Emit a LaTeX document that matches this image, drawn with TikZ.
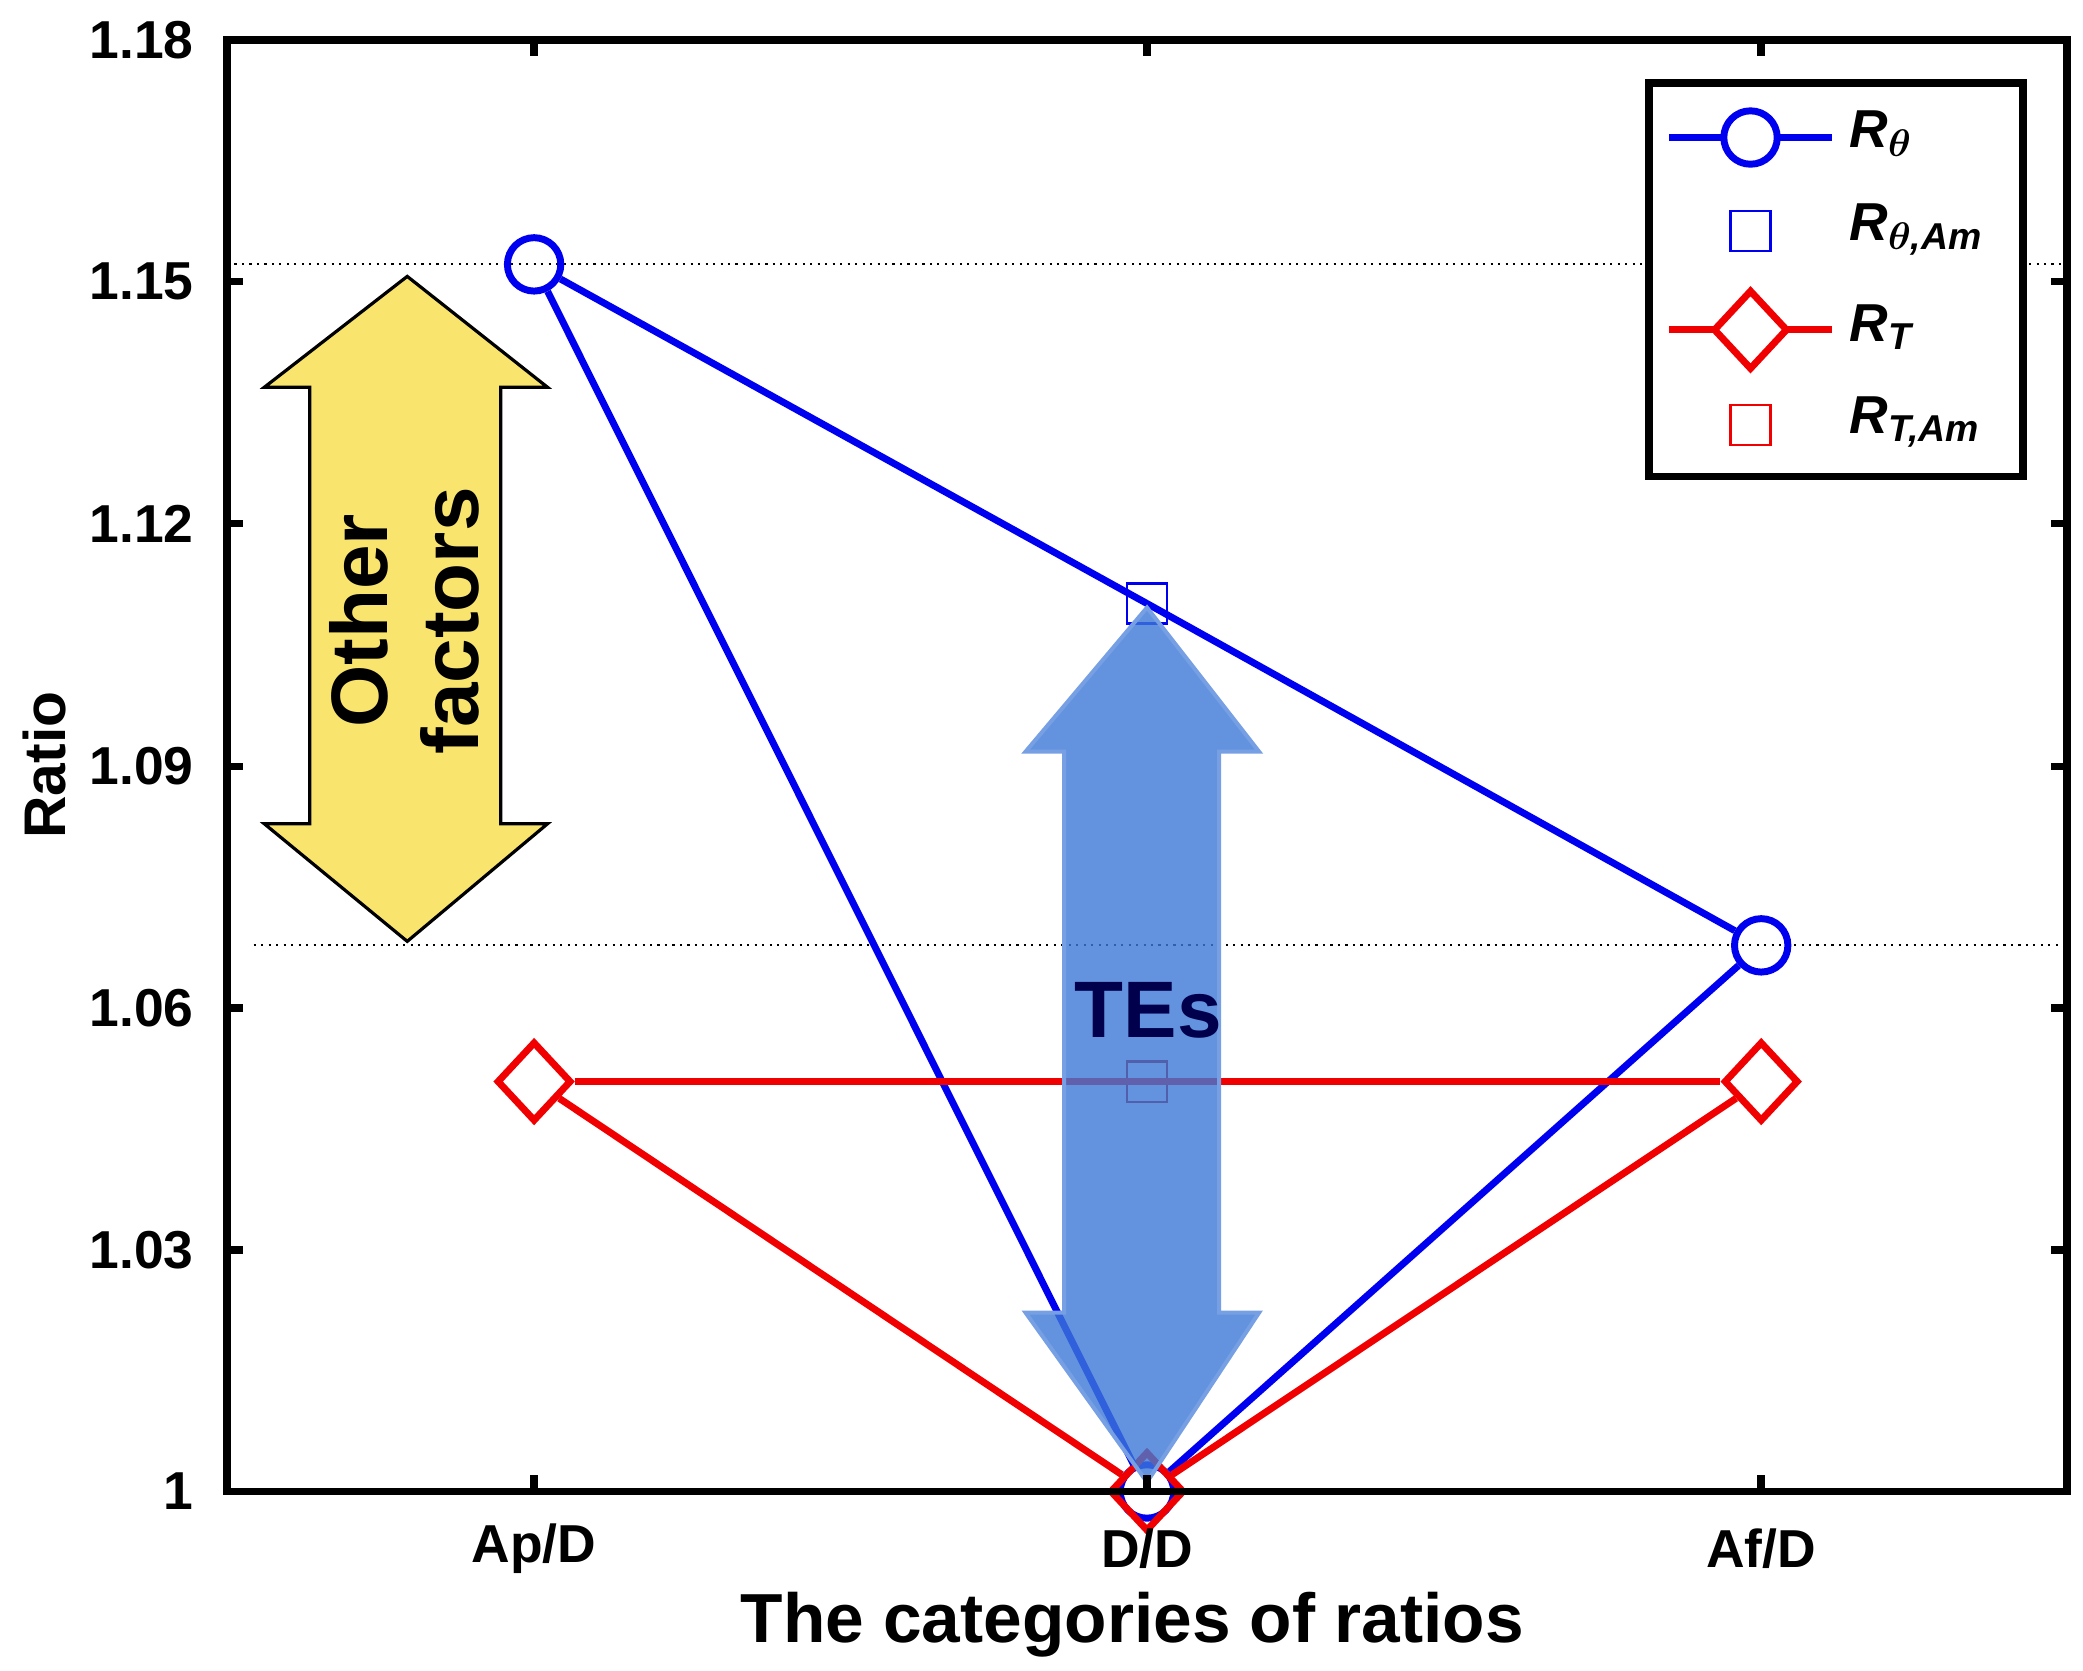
\documentclass[tikz,border=0pt]{standalone}
\usepackage{amsmath,amssymb,bm}
\usepackage{fontspec}
\setmainfont{Liberation Sans}
\usetikzlibrary{shapes.geometric}
\definecolor{myblue}{RGB}{0,0,240}
\definecolor{myred}{RGB}{240,0,0}
\definecolor{ylw}{RGB}{249,229,110}
\definecolor{arrblue}{RGB}{60,120,215}
\begin{document}
\begin{tikzpicture}[x=0.5pt,y=-0.5pt,
  ln/.style={line width=2.6pt},
  circ/.style={circle,draw=myblue,line width=2.6pt,minimum size=20pt,inner sep=0},
  dia/.style={diamond,draw=myred,line width=2.6pt,minimum width=28pt,minimum height=30pt,inner sep=0},
  sq/.style={rectangle,line width=0.8pt,minimum size=15pt,inner sep=0},
  tick/.style={font=\bfseries\fontsize{20}{20}\selectfont},
  leg/.style={font=\bfseries\itshape\fontsize{20}{20}\selectfont,anchor=west}]
\useasboundingbox (0,0) rectangle (1560,1251);
\draw[dotted,line width=0.8pt] (170,198) -- (1548,198);
\draw[dotted,line width=0.8pt] (190,708) -- (1548,708);
\draw[fill=ylw,line width=1.2pt] (305,207) -- (410,290) -- (375,290) -- (375,617) -- (410,617) -- (305,705) -- (198,617) -- (232,617) -- (232,290) -- (198,290) -- cycle;
\node[rotate=90,align=center,font=\bfseries\fontsize{30}{34}\selectfont] (of) at (303,465) {Other\\factors};
\node[circ] (a1) at (400,198) {};
\node[circ] (a2) at (859,1117) {};
\node[circ] (a3) at (1319,708) {};
\node[sq,draw=myblue] (s1) at (859,452) {};
\node[dia] (d1) at (400,810) {};
\node[dia] (d2) at (859,1117) {};
\node[dia] (d3) at (1319,810) {};
\node[sq,draw=myred!70!black] (s2) at (859,810) {};
\draw[ln,myblue] (a1) -- (s1.center) -- (a3);
\draw[ln,myblue] (a1) -- (a2) -- (a3);
\draw[ln,myred] (d1) -- (d2) -- (d3);
\draw[ln,myred] (d1) -- (d3);
\draw[fill=arrblue,fill opacity=0.8,draw=arrblue!70!white,line width=1.5pt] (859,455) -- (943,563) -- (913,563) -- (913,983) -- (943,983) -- (859,1110) -- (768,983) -- (797,983) -- (797,563) -- (768,563) -- cycle;
\node[font=\bfseries\fontsize{30}{30}\selectfont,text=blue!30!black] (te) at (860,757) {TEs};
\draw[line width=2.8pt] (170,30) rectangle (1548,1117);
\foreach \y/\l in {30/1.18,211/1.15,392/1.12,574/1.09,755/1.06,936/1.03,1117/1}{
  \draw[line width=2.8pt] (170,\y) -- (182,\y);
  \draw[line width=2.8pt] (1548,\y) -- (1536,\y);
  \node[tick,anchor=east] at (152,\y) {\l};}
\foreach \x/\l in {400/Ap\slash D,859/D\slash D,1319/Af\slash D}{
  \draw[line width=2.8pt] (\x,1117) -- (\x,1105);
  \draw[line width=2.8pt] (\x,30) -- (\x,42);
  \node[tick] at (\x,1160) {\l};}
\node[font=\bfseries\fontsize{26}{26}\selectfont] (xl) at (848,1217) {The categories of ratios};
\node[rotate=90,font=\bfseries\fontsize{22}{22}\selectfont] (yl) at (33,573) {Ratio};
\draw[line width=2.8pt,fill=white] (1235,62) rectangle (1515,357);
\coordinate (l1a) at (1250,103); \coordinate (l1b) at (1372,103);
\draw[ln,myblue] (l1a) -- (l1b);
\node[circ,fill=white] (lc) at (1311,103) {};
\node[sq,draw=myblue] (ls1) at (1311,173) {};
\coordinate (l3a) at (1250,247); \coordinate (l3b) at (1372,247);
\draw[ln,myred] (l3a) -- (l3b);
\node[dia,fill=white] (ld) at (1311,247) {};
\node[sq,draw=myred] (ls2) at (1311,318) {};
\node[leg] (t1) at (1378,100) {R\textsubscript{$\bm{\theta}$}};
\node[leg] (t2) at (1378,172) {R\textsubscript{$\bm{\theta}$,Am}};
\node[leg] (t3) at (1378,245) {R\textsubscript{T}};
\node[leg] (t4) at (1378,316) {R\textsubscript{T,Am}};
\end{tikzpicture}
\end{document}
